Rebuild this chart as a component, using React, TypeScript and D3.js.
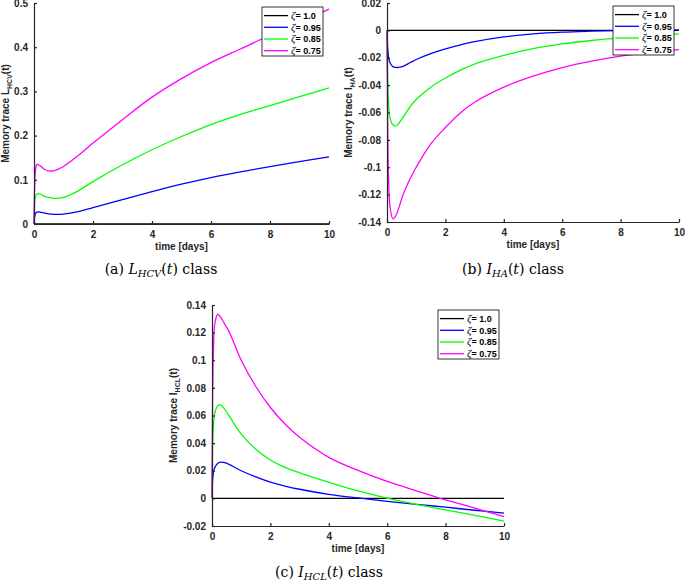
import React, { useEffect, useRef } from "react";
import * as d3 from "d3";

// legend entries (zeta values) and the MATLAB colours
const zetaLabels = ["1.0", "0.95", "0.85", "0.75"];
const lineColors = ["#000000", "#0000ff", "#00ff00", "#ff00ff"];

// (a) L_HCV(t)
const timeA = [0, 0.02, 0.05, 0.1, 0.2, 0.35, 0.5, 0.7, 1, 1.5, 2, 3, 4, 5, 6, 7, 8, 9, 10];
const lhcv10 = [0, 0, 0, 0, 0, 0, 0, 0, 0, 0, 0, 0, 0, 0, 0, 0, 0, 0, 0];
const lhcv95 = [0, 0.015, 0.024, 0.027, 0.027, 0.025, 0.023, 0.022, 0.0225, 0.028, 0.037, 0.055, 0.073, 0.09, 0.105, 0.118, 0.13, 0.141, 0.152];
const lhcv85 = [0, 0.04, 0.062, 0.068, 0.068, 0.063, 0.06, 0.058, 0.06, 0.075, 0.096, 0.134, 0.168, 0.198, 0.225, 0.248, 0.268, 0.288, 0.308];
const lhcv75 = [0, 0.08, 0.12, 0.135, 0.132, 0.124, 0.12, 0.121, 0.13, 0.155, 0.183, 0.236, 0.287, 0.329, 0.365, 0.396, 0.427, 0.456, 0.486];

// (b) I_HA(t)
const timeB = [0, 0.02, 0.05, 0.1, 0.2, 0.3, 0.4, 0.55, 0.8, 1, 1.5, 2, 2.5, 3, 4, 5, 6, 7, 8, 9, 10];
const iha10 = [0, 0, 0, 0, 0, 0, 0, 0, 0, 0, 0, 0, 0, 0, 0, 0, 0, 0, 0, 0, 0];
const iha95 = [0, -0.012, -0.019, -0.0235, -0.0265, -0.0271, -0.027, -0.0263, -0.0235, -0.0213, -0.017, -0.0135, -0.0107, -0.0083, -0.0048, -0.0026, -0.0013, -0.0006, -0.0001, 0.0002, 0.0003];
const iha85 = [0, -0.03, -0.052, -0.0635, -0.069, -0.0699, -0.068, -0.0635, -0.0555, -0.0505, -0.0415, -0.0348, -0.0292, -0.0246, -0.0183, -0.0134, -0.0099, -0.0074, -0.0055, -0.004, -0.0025];
const iha75 = [0, -0.06, -0.105, -0.128, -0.1376, -0.1355, -0.13, -0.12, -0.108, -0.1, -0.083, -0.071, -0.0605, -0.0525, -0.0415, -0.0335, -0.0272, -0.0225, -0.0188, -0.016, -0.014];

// (c) I_HCL(t)
const timeC = [0, 0.02, 0.05, 0.1, 0.2, 0.3, 0.4, 0.6, 0.8, 1, 1.5, 2, 2.5, 3, 4, 5, 6, 7, 8, 9, 10];
const ihcl10 = [0, 0, 0, 0, 0, 0, 0, 0, 0, 0, 0, 0, 0, 0, 0, 0, 0, 0, 0, 0, 0];
const ihcl95 = [0, 0.013, 0.019, 0.0225, 0.0255, 0.0263, 0.026, 0.0245, 0.0222, 0.02, 0.0155, 0.0117, 0.0089, 0.0066, 0.0029, 0.0003, -0.0021, -0.0043, -0.0064, -0.0086, -0.0107];
const ihcl85 = [0, 0.035, 0.053, 0.062, 0.0672, 0.0675, 0.0655, 0.0593, 0.0525, 0.0465, 0.0355, 0.0278, 0.0225, 0.0185, 0.0117, 0.0054, 0.0002, -0.0043, -0.0083, -0.0123, -0.0164];
const ihcl75 = [0, 0.07, 0.108, 0.127, 0.1333, 0.131, 0.1275, 0.12, 0.11, 0.1, 0.081, 0.0658, 0.0538, 0.0442, 0.0297, 0.0203, 0.0123, 0.0055, -0.0011, -0.0071, -0.0133];

const xTicks = [0, 2, 4, 6, 8, 10];
const yTicksA = [0, 0.1, 0.2, 0.3, 0.4, 0.5];
const yTicksB = [0.02, 0, -0.02, -0.04, -0.06, -0.08, -0.1, -0.12, -0.14];
const yTicksC = [0.14, 0.12, 0.1, 0.08, 0.06, 0.04, 0.02, 0, -0.02];

const panels = [
  {
    left: 34, right: 329, top: 3, bottom: 224,
    yDomain: [0, 0.5], yTicks: yTicksA,
    time: timeA, series: [lhcv10, lhcv95, lhcv85, lhcv75],
    sym: "L", sub: "HCV", yLabelX: 9,
    legendX: 262, legendY: 7,
    tag: "(a)", captionX: 161, captionY: 274,
  },
  {
    left: 387, right: 679, top: 3, bottom: 222,
    yDomain: [-0.14, 0.02], yTicks: yTicksB,
    time: timeB, series: [iha10, iha95, iha85, iha75],
    sym: "I", sub: "HA", yLabelX: 352,
    legendX: 613, legendY: 6,
    tag: "(b)", captionX: 513, captionY: 274,
  },
  {
    left: 212, right: 504, top: 305, bottom: 526,
    yDomain: [-0.02, 0.14], yTicks: yTicksC,
    time: timeC, series: [ihcl10, ihcl95, ihcl85, ihcl75],
    sym: "I", sub: "HCL", yLabelX: 177,
    legendX: 438, legendY: 310,
    tag: "(c)", captionX: 329, captionY: 577,
  },
];

const axisColor = "#262626";
const sans = "'Liberation Sans', Arial, sans-serif";
const serif = "'DejaVu Serif', serif";

const fmt = (d) => String(+(+d).toFixed(2));

const drawPanel = (svg, p) => {
  const x = d3.scaleLinear().domain([0, 10]).range([p.left, p.right]);
  const y = d3.scaleLinear().domain(p.yDomain).range([p.bottom, p.top]);
  const g = svg.append("g");

  // data lines, smoothed between the read-off points
  const line = d3
    .line()
    .x((d) => x(d[0]))
    .y((d) => y(d[1]))
    .curve(d3.curveCatmullRom.alpha(0.5));

  p.series.forEach((vals, i) => {
    g.append("path")
      .datum(p.time.map((t, j) => [t, vals[j]]))
      .attr("d", line)
      .attr("fill", "none")
      .attr("stroke", lineColors[i])
      .attr("stroke-width", 1.3);
  });

  // axes, ticks pointing inward like MATLAB
  const xAxis = g
    .append("g")
    .attr("transform", `translate(0, ${p.bottom})`)
    .call(d3.axisBottom(x).tickValues(xTicks).tickFormat(fmt).tickSize(-3).tickSizeOuter(0).tickPadding(7));
  const yAxis = g
    .append("g")
    .attr("transform", `translate(${p.left}, 0)`)
    .call(d3.axisLeft(y).tickValues(p.yTicks).tickFormat(fmt).tickSize(-3).tickSizeOuter(0).tickPadding(6));

  [xAxis, yAxis].forEach((ax) => {
    ax.selectAll("path, line").attr("stroke", axisColor).attr("stroke-width", 1.2);
    ax.selectAll("text")
      .attr("fill", axisColor)
      .style("font-family", sans)
      .style("font-size", "10px")
      .style("font-weight", "bold");
  });

  // x label
  g.append("text")
    .attr("x", (p.left + p.right) / 2)
    .attr("y", p.bottom + 26)
    .attr("text-anchor", "middle")
    .attr("fill", axisColor)
    .style("font-family", sans)
    .style("font-size", "10px")
    .style("font-weight", "bold")
    .text("time [days]");

  // y label
  const yl = g
    .append("text")
    .attr("transform", `translate(${p.yLabelX}, ${(p.top + p.bottom) / 2}) rotate(-90)`)
    .attr("text-anchor", "middle")
    .attr("fill", axisColor)
    .style("font-family", sans)
    .style("font-size", "10px")
    .style("font-weight", "bold");
  yl.append("tspan").text(`Memory trace ${p.sym}`);
  yl.append("tspan").attr("dy", 3).style("font-size", "7px").text(p.sub);
  yl.append("tspan").attr("dy", -3).text("(t)");

  // legend
  const lg = g.append("g").attr("transform", `translate(${p.legendX}, ${p.legendY})`);
  lg.append("rect")
    .attr("width", 61)
    .attr("height", 49)
    .attr("fill", "white")
    .attr("stroke", "#000")
    .attr("stroke-width", 0.8);
  zetaLabels.forEach((lab, i) => {
    const ry = 8.6 + i * 11.7;
    lg.append("line")
      .attr("x1", 2).attr("x2", 26)
      .attr("y1", ry).attr("y2", ry)
      .attr("stroke", lineColors[i])
      .attr("stroke-width", 1.3);
    const t = lg.append("text")
      .attr("x", 29)
      .attr("y", ry + 3.2)
      .attr("fill", "#000")
      .style("font-family", sans)
      .style("font-size", "9px")
      .style("font-weight", "bold");
    t.append("tspan").style("font-family", "'Liberation Serif', serif").style("font-style", "italic").style("font-weight", "normal").style("font-size", "11px").text("ζ");
    t.append("tspan").text(`= ${lab}`);
  });

  // caption
  const cap = svg
    .append("text")
    .attr("x", p.captionX)
    .attr("y", p.captionY)
    .attr("text-anchor", "middle")
    .attr("fill", "#000")
    .style("font-family", serif)
    .style("font-size", "14px");
  cap.append("tspan").text(`${p.tag} `);
  cap.append("tspan").style("font-style", "italic").text(p.sym);
  cap.append("tspan").attr("dy", 3).style("font-style", "italic").style("font-size", "10px").text(p.sub);
  cap.append("tspan").attr("dy", -3).text("(");
  cap.append("tspan").style("font-style", "italic").text("t");
  cap.append("tspan").text(") class");
};

const App = () => {
  const svgRef = useRef(null);

  useEffect(() => {
    const svg = d3.select(svgRef.current);
    svg.selectAll("*").remove();
    panels.forEach((p) => drawPanel(svg, p));
  }, []);

  return (
    <svg
      ref={svgRef}
      width="685"
      height="582"
      style={{ position: "absolute", left: 0, top: 0, background: "white" }}
    ></svg>
  );
};

export default App;
